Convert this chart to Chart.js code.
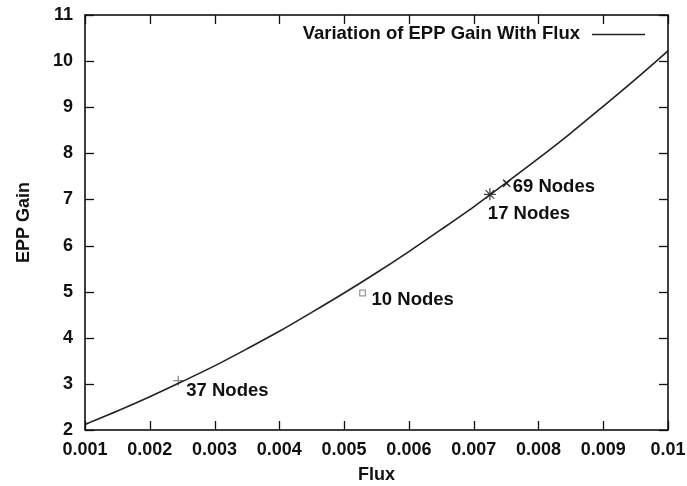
<!DOCTYPE html>
<html><head><meta charset="utf-8">
<script src="https://cdn.jsdelivr.net/npm/chart.js@4"></script>
<style>html,body{margin:0;padding:0;background:#fff}#wrap{width:687px;height:486px}</style>
</head><body><div id="wrap"><canvas id="c" width="687" height="486"></canvas></div>
<script>
const curveX = [0.001,0.0015,0.002,0.0025,0.003,0.0035,0.004,0.0045,0.005,0.0055,0.006,0.0065,0.007,0.0075,0.008,0.0085,0.009,0.0095,0.01];
const curveY = [2.12,2.41,2.72,3.05,3.39,3.76,4.14,4.55,4.97,5.41,5.87,6.35,6.84,7.36,7.89,8.44,9.02,9.61,10.22];
const nodeLabels = ['37 Nodes','10 Nodes','17 Nodes','69 Nodes'];
const nodeX = [0.00244,0.005285,0.00725,0.00751];
const nodeY = [3.07,4.97,7.11,7.35];
const xTicks = [0.001,0.002,0.003,0.004,0.005,0.006,0.007,0.008,0.009,0.01];
const xTickLabels = ['0.001','0.002','0.003','0.004','0.005','0.006','0.007','0.008','0.009','0.01'];
const yTicks = [2,3,4,5,6,7,8,9,10,11];
const legendText = 'Variation of EPP Gain With Flux';

const FONT = 'Liberation Sans, Arial, Helvetica, sans-serif';
const markerStyles = [
  {style:'cross', color:'#8a8a8a', r:5},
  {style:'rect', color:'#9a9a9a', r:4},
  {style:'star', color:'#444444', r:6},
  {style:'crossRot', color:'#111111', r:5}
];
const labelOffsets = [[8,10],[9,7],[-2,20],[6,4]];

const datasets = [{
  label: legendText,
  data: curveX.map((x,i)=>({x:x,y:curveY[i]})),
  showLine:true,
  borderColor:'#222', borderWidth:1.6, pointRadius:0, tension:0.3, fill:false
}];
nodeLabels.forEach((lab,i)=>{
  datasets.push({
    label: lab,
    data:[{x:nodeX[i],y:nodeY[i]}],
    showLine:false,
    pointStyle: markerStyles[i].style,
    pointRadius: markerStyles[i].r,
    borderColor: markerStyles[i].color,
    backgroundColor:'rgba(0,0,0,0)',
    pointBorderWidth:1.3
  });
});

const decor = {
  id:'decor',
  afterDatasetsDraw(chart){
    const ctx = chart.ctx, a = chart.chartArea;
    const xs = chart.scales.x, ys = chart.scales.y;
    ctx.save();
    ctx.strokeStyle='#111'; ctx.lineWidth=1.3;
    const L=9;
    xTicks.forEach(v=>{
      const p = Math.round(xs.getPixelForValue(v))+0.5;
      ctx.beginPath(); ctx.moveTo(p,a.bottom); ctx.lineTo(p,a.bottom-L); ctx.stroke();
      ctx.beginPath(); ctx.moveTo(p,a.top); ctx.lineTo(p,a.top+L); ctx.stroke();
    });
    yTicks.forEach(v=>{
      const p = Math.round(ys.getPixelForValue(v))+0.5;
      ctx.beginPath(); ctx.moveTo(a.left,p); ctx.lineTo(a.left+L,p); ctx.stroke();
      ctx.beginPath(); ctx.moveTo(a.right,p); ctx.lineTo(a.right-L,p); ctx.stroke();
    });
    ctx.lineWidth=1.6;
    ctx.strokeRect(a.left,a.top,a.right-a.left,a.bottom-a.top);
    ctx.fillStyle='#111';
    ctx.font='bold 18.5px '+FONT;
    ctx.textBaseline='middle'; ctx.textAlign='left';
    nodeLabels.forEach((lab,i)=>{
      const px = xs.getPixelForValue(nodeX[i]), py = ys.getPixelForValue(nodeY[i]);
      ctx.fillText(lab, px+labelOffsets[i][0], py+labelOffsets[i][1]);
    });
    ctx.textAlign='right';
    ctx.fillText(legendText, a.right-88, a.top+19);
    ctx.strokeStyle='#222'; ctx.lineWidth=1.6;
    ctx.beginPath(); ctx.moveTo(a.right-76,a.top+19.5); ctx.lineTo(a.right-23,a.top+19.5); ctx.stroke();
    ctx.restore();
  }
};

new Chart(document.getElementById('c'),{
  type:'scatter',
  data:{datasets:datasets},
  options:{
    responsive:false, animation:false, devicePixelRatio:1,
    layout:{padding:{left:0,right:19,top:15,bottom:0}},
    plugins:{legend:{display:false},tooltip:{enabled:false}},
    scales:{
      x:{
        type:'linear', min:0.001, max:0.01,
        afterBuildTicks(s){ s.ticks = xTicks.map(v=>({value:v})); },
        afterFit(s){ s.height = 56; s.paddingLeft=0; s.paddingRight=0; },
        grid:{display:true,drawOnChartArea:false,drawTicks:false},
        border:{display:false},
        ticks:{padding:9,color:'#111',font:{family:FONT,size:18,weight:'bold'},
          maxRotation:0, autoSkip:false,
          callback:(v,i)=>xTickLabels[i]},
        title:{display:true,text:'Flux',color:'#111',font:{family:FONT,size:18,weight:'bold'},padding:{top:0,bottom:0}}
      },
      y:{
        type:'linear', min:2, max:11,
        afterBuildTicks(s){ s.ticks = yTicks.map(v=>({value:v})); },
        afterFit(s){ s.width = 85; s.paddingTop=0; s.paddingBottom=0; },
        grid:{display:true,drawOnChartArea:false,drawTicks:false},
        border:{display:false},
        ticks:{padding:12,color:'#111',font:{family:FONT,size:18,weight:'bold'},autoSkip:false,
          callback:(v)=>String(v)},
        title:{display:true,text:'EPP Gain',color:'#111',font:{family:FONT,size:18,weight:'bold'},padding:{top:13,bottom:0}}
      }
    }
  },
  plugins:[decor]
});
</script></body></html>
